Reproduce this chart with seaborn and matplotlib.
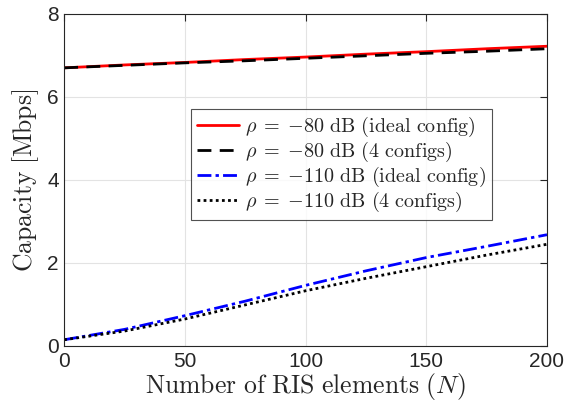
import matplotlib
matplotlib.use("Agg")
import matplotlib.pyplot as plt
import numpy as np
import pandas as pd
import seaborn as sns

# values
n_elements = [0, 25, 50, 75, 100, 125, 150, 175, 200]
cap_80_ideal = [6.70, 6.77, 6.83, 6.90, 6.96, 7.03, 7.09, 7.16, 7.22]
cap_80_4cfg = [6.70, 6.76, 6.82, 6.87, 6.93, 6.99, 7.05, 7.10, 7.16]
cap_110_ideal = [0.15, 0.40, 0.73, 1.08, 1.46, 1.81, 2.13, 2.40, 2.68]
cap_110_4cfg = [0.15, 0.36, 0.65, 0.99, 1.33, 1.63, 1.91, 2.19, 2.45]

labels = [
    r"$\rho\;=\;{-}80\ \mathrm{dB\ (ideal\ config)}$",
    r"$\rho\;=\;{-}80\ \mathrm{dB\ (4\ configs)}$",
    r"$\rho\;=\;{-}110\ \mathrm{dB\ (ideal\ config)}$",
    r"$\rho\;=\;{-}110\ \mathrm{dB\ (4\ configs)}$",
]
series = [cap_80_ideal, cap_80_4cfg, cap_110_ideal, cap_110_4cfg]
colors = ["#ff0000", "black", "#0000ff", "black"]
styles = ["-", (0, (5, 3)), (0, (5, 1.5, 1.2, 1.5)), (0, (1, 1.2))]

sns.set_style("white")
plt.rcParams["font.family"] = ["Liberation Sans", "DejaVu Sans"]
plt.rcParams["mathtext.fontset"] = "cm"

axcol = "#262626"
fig = plt.figure(figsize=(5.68, 4.08), dpi=100)
ax = fig.add_axes([0.113, 0.152, 0.850, 0.814])

for vals, lab, c, ls in zip(series, labels, colors, styles):
    df = pd.DataFrame({"N": n_elements, "C": vals})
    sns.lineplot(data=df, x="N", y="C", ax=ax, color=c, lw=2, label=lab)
    ax.lines[-1].set_linestyle(ls)

ax.set_xlim(0, 200)
ax.set_ylim(0, 8)
ax.set_xticks([0, 50, 100, 150, 200])
ax.set_yticks([0, 2, 4, 6, 8])
ax.grid(True, color="#e3e3e3", lw=0.8)
ax.tick_params(direction="in", top=True, right=True, length=5, width=0.8,
               colors=axcol, labelsize=15, labelcolor=axcol, pad=4)
for s in ax.spines.values():
    s.set_color(axcol)
    s.set_linewidth(0.8)

ax.set_xlabel(r"$\mathrm{Number\ of\ RIS\ elements\ (}N\mathrm{)}$",
              fontsize=18.5, color=axcol, labelpad=0)
ax.set_ylabel(r"$\mathrm{Capacity\ [Mbps]}$", fontsize=18.5, color=axcol, labelpad=4)

leg = ax.legend(loc="upper right", bbox_to_anchor=(0.886, 0.714), borderaxespad=0,
                fontsize=14.5, frameon=True, fancybox=False, edgecolor=axcol,
                handlelength=2.1, handletextpad=0.3, labelspacing=0.05,
                borderpad=0.3)
leg.get_frame().set_linewidth(0.8)

fig.savefig("out.png", dpi=100)
